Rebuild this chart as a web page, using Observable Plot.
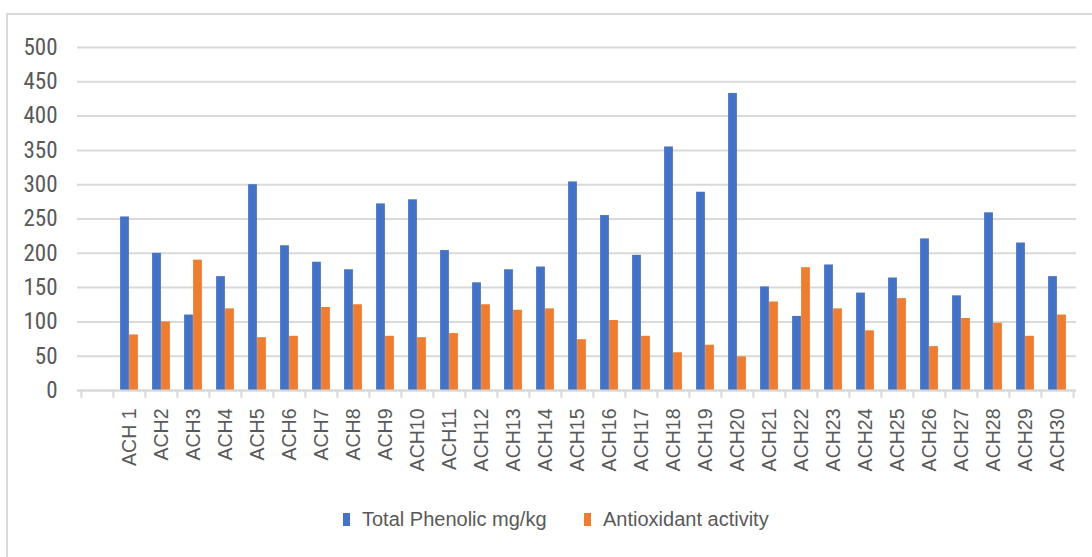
<!DOCTYPE html>
<html>
<head>
<meta charset="utf-8">
<script src="https://cdn.jsdelivr.net/npm/d3@7"></script>
<script src="https://cdn.jsdelivr.net/npm/@observablehq/plot@0.6"></script>
<style>
  html, body { margin: 0; padding: 0; background: #fff; }
  #wrap { position: relative; width: 1092px; height: 557px; overflow: hidden; }
  #frame { position: absolute; left: 6px; top: 13px; right: 0; bottom: 0;
           border-left: 2px solid #d9d9d9; border-top: 2px solid #d9d9d9; pointer-events: none; }
  #legend { position: absolute; left: 0; top: 508px; width: 1092px; height: 22px;
            font-family: "Liberation Sans", Arial, sans-serif; font-size: 20px; color: #595959; }
  .item { position: absolute; top: 0; display: flex; align-items: center; height: 22px; white-space: nowrap; }
  .sw { width: 7px; height: 13px; margin-right: 12px; }
</style>
</head>
<body>
<div id="wrap">
  <div id="chart"></div>
  <div id="legend"></div>
  <div id="frame"></div>
</div>
<script>
const categories = ["ACH 1","ACH2","ACH3","ACH4","ACH5","ACH6","ACH7","ACH8","ACH9","ACH10",
  "ACH11","ACH12","ACH13","ACH14","ACH15","ACH16","ACH17","ACH18","ACH19","ACH20",
  "ACH21","ACH22","ACH23","ACH24","ACH25","ACH26","ACH27","ACH28","ACH29","ACH30"];
const totalPhenolic = [253,200,110,166,300,211,187,176,272,278,204,157,176,180,304,255,197,355,289,433,151,108,183,142,164,221,138,259,215,166];
const antioxidant = [81,100,190,119,77,79,121,125,79,77,83,125,117,119,74,102,79,55,66,49,129,179,119,87,134,64,105,98,79,110];
const seriesNames = ["Total Phenolic mg/kg", "Antioxidant activity"];
const seriesColors = ["#4472C4", "#ED7D31"];
const yTicks = [0,50,100,150,200,250,300,350,400,450,500];

const phenolicRows = categories.map((c, i) => ({category: c, value: totalPhenolic[i]}));
const antioxRows = categories.map((c, i) => ({category: c, value: antioxidant[i]}));
const xDomain = ["", ...categories];

const W = 1092, ML = 77, MR = 16;
const step = (W - ML - MR) / xDomain.length;
const barW = 9;
const outer = (step - 2 * barW) / 2;
const grey = "#d9d9d9";
const txt = "#595959";

const chart = Plot.plot({
  width: W,
  height: 490,
  marginLeft: ML,
  marginRight: MR,
  marginTop: 47,
  marginBottom: 100,
  style: {background: "transparent", fontFamily: "'Liberation Sans', Arial, sans-serif", color: txt},
  x: {type: "band", domain: xDomain, padding: 0},
  y: {domain: [0, 500]},
  marks: [
    Plot.gridY(yTicks, {stroke: grey, strokeOpacity: 1, strokeWidth: 2}),
    Plot.barY(phenolicRows, {x: "category", y: "value", fill: seriesColors[0], insetLeft: outer, insetRight: outer + barW}),
    Plot.barY(antioxRows, {x: "category", y: "value", fill: seriesColors[1], insetLeft: outer + barW, insetRight: outer}),
    Plot.ruleY([0], {stroke: grey, strokeWidth: 2}),
    Plot.axisX(xDomain, {tickSize: 8, tickFormat: () => "", label: null, dx: -step / 2, stroke: grey, strokeWidth: 2, strokeOpacity: 1}),
    Plot.axisX([categories[categories.length - 1]], {tickSize: 8, tickFormat: () => "", label: null, dx: step / 2, stroke: grey, strokeWidth: 2, strokeOpacity: 1}),
    Plot.axisX(categories, {tickSize: 0, tickPadding: 18, tickRotate: -90, fontSize: 19.5, fill: txt, label: null,
      fontFamily: "'Liberation Sans', Arial, sans-serif"}),
    Plot.axisY(yTicks, {tickSize: 0, tickPadding: 20, fontSize: 23, fill: txt, label: null,
      fontFamily: "'Liberation Sans Narrow', 'Roboto Condensed', 'Liberation Sans', Arial, sans-serif"})
  ]
});
document.getElementById("chart").appendChild(chart);

const legend = document.getElementById("legend");
const legendX = [343, 584];
seriesNames.forEach((name, i) => {
  const item = document.createElement("div");
  item.className = "item";
  item.style.left = legendX[i] + "px";
  const sw = document.createElement("span");
  sw.className = "sw";
  sw.style.background = seriesColors[i];
  const label = document.createElement("span");
  label.textContent = name;
  item.appendChild(sw);
  item.appendChild(label);
  legend.appendChild(item);
});
</script>
</body>
</html>
